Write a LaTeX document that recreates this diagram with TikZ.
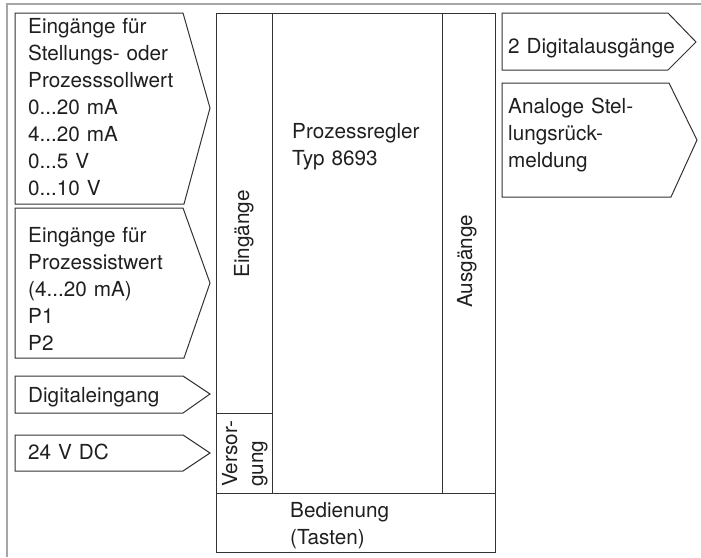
\documentclass[tikz,border=0pt]{standalone}
\usepackage{fontspec}
\setmainfont{TeX Gyre Heros}
\begin{document}
\begin{tikzpicture}[x=1pt,y=-1pt,
  frame/.style={draw=black!80, line width=1pt, line join=miter},
  outer/.style={draw=black!35, line width=2.2pt},
  lbl/.style={inner sep=0pt, anchor=base west, align=left, text width=200pt,
    font=\fontsize{20.7}{27}\selectfont, text=black!88},
  rlbl/.style={lbl, rotate=90}]
\useasboundingbox (0,0) rectangle (701,557);
% outer gray frame (top and left)
\draw[outer] (7,557) -- (7,4) -- (701,4);
% left input arrows
\draw[frame] (15,13) -- (183,13) -- (210,108) -- (184,204) -- (15,204) -- cycle;
\draw[frame] (15,208) -- (183,208) -- (210,283) -- (184,358) -- (15,358) -- cycle;
\draw[frame] (15,376) -- (183,376) -- (210,394) -- (183,413) -- (15,413) -- cycle;
\draw[frame] (15,435) -- (183,435) -- (210,453) -- (183,471) -- (15,471) -- cycle;
% right output arrows
\draw[frame] (502,13) -- (668,13) -- (696,42) -- (668,70) -- (502,70) -- cycle;
\draw[frame] (502,83) -- (669,83) -- (697,140) -- (671,197) -- (502,197) -- cycle;
% main block
\draw[frame] (216,13) rectangle (495,552);
\draw[frame] (272,13) -- (272,493);
\draw[frame] (442,13) -- (442,493);
\draw[frame] (216,493) -- (495,493);
\draw[frame] (216,413) -- (272,413);
% texts
\node[lbl] (t1) at (28,33) {Eingänge für\\Stellungs- oder\\Prozesssollwert\\0...20 mA\\4...20 mA\\0...5 V\\0...10 V};
\node[lbl] (t2) at (28,242) {Eingänge für\\Prozessistwert\\(4...20 mA)\\P1\\P2};
\node[lbl] (t3) at (28,402) {Digitaleingang};
\node[lbl] (t4) at (28,459) {24 V DC};
\node[lbl] (t5) at (508,53) {2 Digitalausgänge};
\node[lbl] (t6) at (508,113) {Analoge Stel-\\lungsrück-\\meldung};
\node[lbl] (t7) at (292,138) {Prozessregler\\Typ 8693};
\node[lbl] (t8) at (290,517) {Bedienung\\(Tasten)};
\node[rlbl] (t9) at (249,278) {Eingänge};
\node[rlbl] (t10) at (472,308) {Ausgänge};
\node[rlbl, font=\fontsize{20.7}{26}\selectfont] (t11) at (237,487) {Versor-\\gung};
\end{tikzpicture}
\end{document}
